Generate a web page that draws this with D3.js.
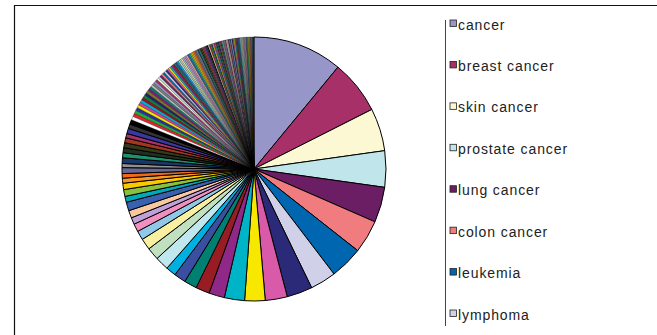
<!DOCTYPE html>
<html>
<head>
<meta charset="utf-8">
<script src="https://cdn.jsdelivr.net/npm/d3@7"></script>
<style>
  html, body { margin: 0; padding: 0; background: #fff; }
  svg { display: block; }
  text { font-family: "Liberation Sans", Arial, sans-serif; }
</style>
</head>
<body>
<svg id="chart" width="657" height="335"></svg>
<script>
// Legend categories (only the first eight are shown in the legend)
const categories = ["cancer", "breast cancer", "skin cancer", "prostate cancer",
  "lung cancer", "colon cancer", "leukemia", "lymphoma"];

// Slice values (in degrees of the pie)
const values = [
  39.5, 23.7, 18.8, 16.0, 15.6, 14.6, 14.5, 11.4, 11.3, 9.7, 9.0, 8.9, 6.9, 6.1, 5.6, 5.2, 4.5,
  6.0, 5.5, 5.0, 4.0, 3.5, 3.0, 3.3, 3.8, 2.6, 3.0, 2.8, 2.2, 2.0,
  2.6, 1.8, 2.5, 2.2, 2.2, 2.2, 2.2, 1.9, 2.3, 2.0, 2.0, 1.6,
  1.5, 1.4, 1.4, 1.3, 1.3, 1.3, 1.2, 1.2, 1.2, 1.2,
  1.1, 1.1, 1.0, 1.0, 1.0, 1.0, 0.9, 0.9, 0.9, 0.9,
  0.85, 0.85, 0.8, 0.8, 0.8, 0.8, 0.75, 0.75, 0.75, 0.75, 0.7, 0.7, 0.7, 0.7, 0.7,
  0.65, 0.65, 0.65, 0.65, 0.65, 0.6, 0.6, 0.6, 0.6, 0.6,
  0.58, 0.58, 0.58, 0.58, 0.58, 0.55, 0.55, 0.55, 0.55, 0.55,
  0.5, 0.5, 0.5, 0.5, 0.5, 0.5, 0.48, 0.48, 0.48, 0.48, 0.48, 0.48,
  0.45, 0.45, 0.45, 0.45, 0.45, 0.45, 0.42, 0.42, 0.42, 0.42, 0.42, 0.42,
  0.4, 0.4, 0.4, 0.4, 0.4, 0.4, 0.38, 0.38, 0.38, 0.38, 0.38, 0.38,
  0.35, 0.35, 0.35, 0.35, 0.35, 0.35, 0.33, 0.33, 0.33, 0.33, 0.33, 0.33,
  0.3, 0.24
];

// Spreadsheet-style 56 colour palette (as it appears in the printed picture)
const palette = [
  "#000000", "#ffffff", "#e0242a", "#20b040", "#2830a0", "#f8e800", "#d040a0", "#00b0d8",
  "#901820", "#108040", "#202070", "#807820", "#802070", "#107878", "#c0c0c0", "#808080",
  "#9696c8", "#a83068", "#fcf8d4", "#c0e6ec", "#6c1e64", "#f07c80", "#0066b0", "#d0d0e8",
  "#2a2a78", "#d85aa8", "#f8e800", "#00b4c8", "#902888", "#981c24", "#008070", "#3a4fa0",
  "#00b0e0", "#c0e6ee", "#c0e0c0", "#f8f0a0", "#90c8e8", "#f090c0", "#c0a0d8", "#f8c8a0",
  "#3a60b0", "#00a8b8", "#88c040", "#f8c800", "#f89820", "#f06818", "#686898", "#909090",
  "#183868", "#20906c", "#203020", "#383818", "#a03820", "#a83068", "#3838a0", "#333333"
];
const paletteStart = 16;

const svg = d3.select("#chart");
svg.append("rect").attr("x", 0).attr("y", 0).attr("width", 657).attr("height", 335).attr("fill", "#fff");

// chart area frame
svg.append("path")
  .attr("d", "M14.5,336 L14.5,5.5 L658,5.5")
  .attr("fill", "none").attr("stroke", "#111").attr("stroke-width", 1.2);

const cx = 254, cy = 169, R = 132;
const pie = d3.pie().sort(null).value(d => d).startAngle(0).endAngle(2 * Math.PI);
const arc = d3.arc().innerRadius(0).outerRadius(R);
const color = i => palette[(paletteStart + i) % palette.length];

const g = svg.append("g").attr("transform", `translate(${cx},${cy})`);
g.selectAll("path.slice")
  .data(pie(values))
  .join("path")
  .attr("class", "slice")
  .attr("d", arc)
  .attr("fill", (d, i) => color(i))
  .attr("stroke", "#000")
  .attr("stroke-width", d => (d.endAngle - d.startAngle) > 0.03 ? 1 : 0.3)
  .attr("stroke-linejoin", "round");

// legend
const lx = 445, ly0 = 25, lstep = 41.43;
svg.append("line")
  .attr("x1", lx + 0.5).attr("x2", lx + 0.5)
  .attr("y1", 20).attr("y2", 326)
  .attr("stroke", "#444").attr("stroke-width", 1);

const y = d3.scalePoint().domain(categories).range([ly0, ly0 + lstep * (categories.length - 1)]);
const leg = svg.append("g");
const items = leg.selectAll("g.item").data(categories).join("g")
  .attr("class", "item")
  .attr("transform", d => `translate(0,${y(d)})`);
items.append("rect")
  .attr("x", 450).attr("y", -5).attr("width", 6.5).attr("height", 6.5)
  .attr("fill", (d, i) => color(i))
  .attr("stroke", "#222").attr("stroke-width", 0.8);
items.append("text")
  .attr("x", 458).attr("y", 4.5)
  .attr("fill", "#222")
  .style("font-size", "14px")
  .style("letter-spacing", "0.9px")
  .text(d => d);
</script>
</body>
</html>
